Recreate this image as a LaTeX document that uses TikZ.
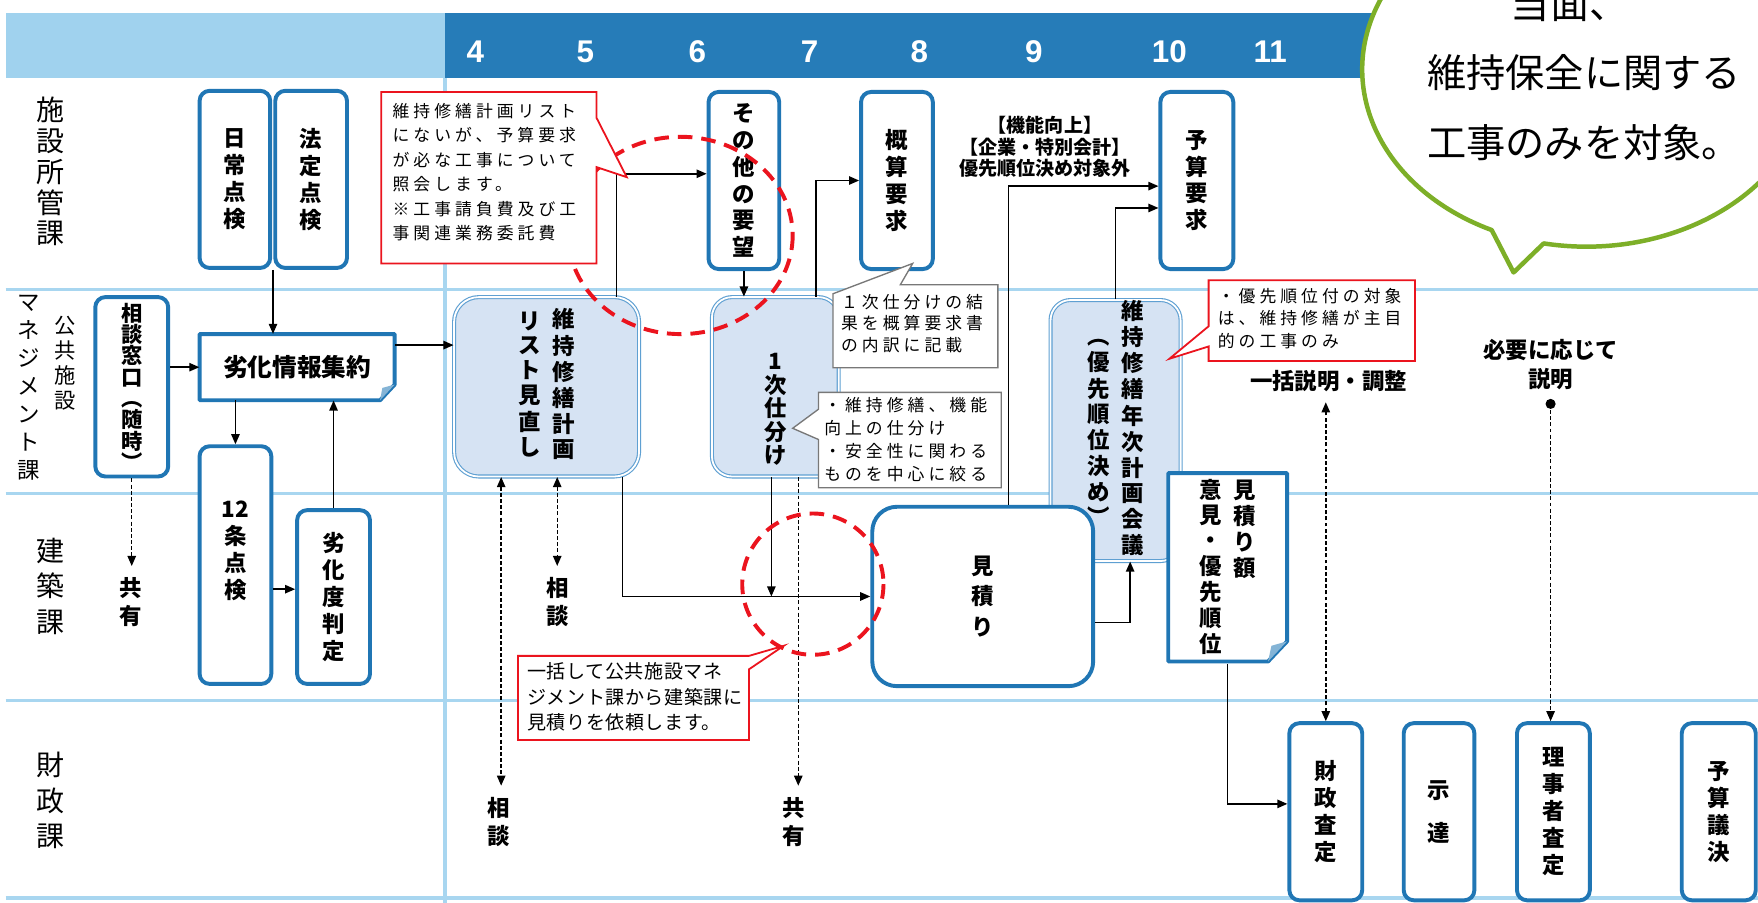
\documentclass[tikz,border=0pt]{standalone}
\usepackage{fontspec}
\setmainfont{Noto Sans CJK JP}
\newfontfamily\arialf{Liberation Sans}
\newfontfamily\calfont{Noto Sans CJK JP}[LetterSpace=24]
\newfontfamily\calfontE{Noto Sans CJK JP}[LetterSpace=3]
\usetikzlibrary{arrows.meta,calc}
\definecolor{hdrlight}{RGB}{160,210,238}
\definecolor{hdrdark}{RGB}{38,124,184}
\definecolor{laneline}{RGB}{168,214,240}
\definecolor{nodeblue}{RGB}{32,118,180}
\definecolor{dblfill}{RGB}{214,227,243}
\definecolor{dblline}{RGB}{95,160,210}
\definecolor{calred}{RGB}{235,20,30}
\definecolor{calgray}{RGB}{120,120,120}
\definecolor{bubgreen}{RGB}{125,175,40}
\newcommand\vcol[1]{\begin{tabular}[c]{@{}c@{}}#1\end{tabular}}
\newcommand\vcolt[1]{\begin{tabular}[t]{@{}c@{}}#1\end{tabular}}
\tikzset{
 vbox/.style={draw=nodeblue, line width=3.5pt, rounded corners=9pt, fill=white, inner sep=0pt, align=center,
   font={\bfseries\fontsize{20}{24}\selectfont}, minimum width=64pt, minimum height=158pt},
 dbl/.style={draw=dblline, double=white, double distance=1.6pt, line width=1pt, fill=dblfill, rounded corners=18pt,
   inner sep=0pt, align=center, font={\bfseries\fontsize{20}{21}\selectfont}},
 docline/.style={draw=nodeblue, line width=3.5pt, fill=white, line join=round},
 fold/.style={fill=nodeblue!55},
 txt/.style={inner sep=0pt, align=center, font={\bfseries\fontsize{20}{25}\selectfont}},
 arr/.style={line width=1.3pt, ->},
 darr/.style={line width=1.3pt, dash pattern=on 3.5pt off 2pt, ->},
 ddarr/.style={line width=1.3pt, dash pattern=on 3.5pt off 2pt, <->},
 reddash/.style={draw=calred, line width=3.5pt, dash pattern=on 13pt off 8pt},
 redcall/.style={draw=calred, line width=1.6pt, fill=white, line join=miter},
 graycall/.style={draw=calgray, line width=1.2pt, fill=white, line join=miter},
 caltxt/.style={inner sep=0pt, align=left, anchor=north west},
 lane/.style={draw=laneline, line width=3pt},
 lanelab/.style={inner sep=0pt, align=center, font={\fontsize{25}{27.5}\selectfont}},
 month/.style={text=white, inner sep=0pt, font={\arialf\bfseries\fontsize{28}{28}\selectfont}},
 bubtxt/.style={inner sep=0pt, font={\fontsize{35}{40}\selectfont}},
}
\begin{document}
\begin{tikzpicture}[x=1pt,y=-1pt,>={Triangle[length=9pt,width=7.5pt]}]
\useasboundingbox (0,0) rectangle (1568,805);
\clip (0,0) rectangle (1568,805);
\fill[white] (0,0) rectangle (1568,805);
% header band
\fill[hdrlight] (5,12) rectangle (397,70);
\fill[hdrdark] (397,12) rectangle (1568,70);
% lanes
\draw[lane] (5,258) -- (1568,258);
\draw[lane] (5,440) -- (1568,440);
\draw[lane] (5,625) -- (1568,625);
\draw[lane] (5,801) -- (1568,801);
\draw[lane] (397,70) -- (397,805);
% months
\foreach \m/\x in {4/424,5/522,6/622,7/722,8/820,9/922,10/1043,11/1133}
  \node[month] (m\m) at (\x,46) {\m};
% lane labels
\node[lanelab] (lab1) at (45,153) {施\\設\\所\\管\\課};
\node[lanelab, font={\fontsize{19}{22.5}\selectfont}] (lab2a) at (58,324) {公\\共\\施\\設};
\node[lanelab, font={\fontsize{20}{25}\selectfont}] (lab2b) at (26,346) {マ\\ネ\\ジ\\メ\\ン\\ト\\課};
\node[lanelab, font={\fontsize{25}{31.5}\selectfont}] (lab3) at (45,523) {建\\築\\課};
\node[lanelab, font={\fontsize{25}{31.5}\selectfont}] (lab4) at (45,714) {財\\政\\課};

% lane 1 boxes
\node[vbox, minimum width=63pt] (nichijo) at (209.5,160) {日\\常\\点\\検};
\node[vbox, minimum width=64pt] (hotei) at (277.5,160) {法\\定\\点\\検};
\node[vbox, minimum width=63pt] (sonota) at (663.5,161) {そ\\の\\他\\の\\要\\望};
\node[vbox] (gaisan) at (800,161) {概\\算\\要\\求};
\node[vbox, minimum width=65pt] (yosan) at (1067.5,161) {予\\算\\要\\求};

% lane 2
\node[vbox, minimum width=65pt, minimum height=160pt, font={\bfseries\fontsize{19}{19}\selectfont}] (soudan) at (117.5,345)
  {相\\談\\窓\\口\\︵\\随\\時\\︶};
\draw[docline] (178,298) -- (352,298) -- (352,343) -- (339,357) -- (178,357) -- cycle;
\fill[fold] (339,357) -- (352,343) -- (341,346) -- cycle;
\node[txt, font={\bfseries\fontsize{22}{24}\selectfont}, minimum width=174pt, minimum height=59pt] (rekka) at (265,327.5) {劣化情報集約};
\node[dbl, minimum width=165pt, minimum height=160pt, rounded corners=22pt] (list) at (487.5,345)
  {\vcol{リ\\ス\\ト\\見\\直\\し}\hspace{10pt}\vcol{維\\持\\修\\繕\\計\\画}};
\node[dbl, minimum width=113pt, minimum height=160pt] (shiwake) at (691.5,345)
  {\mbox{}\\[34pt]1\\次\\仕\\分\\け};
\node[dbl, minimum width=116pt, minimum height=232pt] (kaigi) at (995,384)
  {\vcol{︵\\優\\先\\順\\位\\決\\め\\︶}\hspace{10pt}\vcol{維\\持\\修\\繕\\年\\次\\計\\画\\会\\議}};

% lane 3
\node[vbox, minimum height=212pt] (j12) at (210,504) {12\\条\\点\\検\\[4pt]\mbox{}};
\node[vbox, minimum width=65pt, minimum height=155pt] (rekkado) at (297.5,532.5) {劣\\化\\度\\判\\定};
\node[vbox, minimum width=197pt, minimum height=160pt, rounded corners=22pt, font={\bfseries\fontsize{20}{27}\selectfont}] (mitsumori) at (876.5,532) {見\\積\\り};
\draw[docline] (1042,422) -- (1148,422) -- (1148,572) -- (1131,590) -- (1042,590) -- cycle;
\fill[fold] (1131,590) -- (1148,572) -- (1134,576) -- cycle;
\node[txt, font={\bfseries\fontsize{20}{21.5}\selectfont}, minimum width=106pt, minimum height=168pt] (mdoc) at (1095,508)
  {\vcolt{意\\見\\・\\優\\先\\順\\位}\hspace{10pt}\vcolt{見\\積\\り\\額}};

% lane 4
\node[vbox, minimum width=65pt] (zaisei) at (1182.5,724) {財\\政\\査\\定};
\node[vbox, minimum width=63pt] (shitatsu) at (1283.5,724) {示\\[14pt]達};
\node[vbox, minimum width=65pt] (riji) at (1385.5,724) {理\\事\\者\\査\\定};
\node[vbox, minimum width=66pt] (giketsu) at (1533,724) {予\\算\\議\\決};

% labels
\node[txt, font={\bfseries\fontsize{17}{19.5}\selectfont}] (kinou) at (932,131) {【機能向上】\\【企業・特別会計】\\優先順位決め対象外};
\node[txt] (ikkatsu) at (1185,340) {一括説明・調整};
\node[txt, font={\bfseries\fontsize{20}{26}\selectfont}] (hitsuyo) at (1383,325) {必要に応じて\\説明};
\node[txt] (kyo1) at (117,537) {共\\有};
\node[txt] (sou1) at (497,537) {相\\談};
\node[txt] (sou2) at (445,733) {相\\談};
\node[txt] (kyo2) at (708,733) {共\\有};

% solid connectors
\coordinate (jn) at ($(nichijo.south)!0.5!(hotei.south)$);
\draw[arr] (jn) -- (jn |- rekka.north);
\draw[arr] (soudan.east |- rekka.west) -- (rekka.west);
\draw[arr] (j12.north |- rekka.south) -- (j12.north);
\draw[arr] (rekkado.north) -- (rekkado.north |- rekka.south);
\coordinate (r2) at ($(rekkado.west)+(0,-7)$);
\draw[arr] (r2 -| j12.east) -- (r2);
\coordinate (r1) at ($(rekka.north east)+(0,10)$);
\draw[arr] (r1) -- (r1 -| list.west);
\coordinate (l1) at ($(list.north)+(62.5,0)$);
\coordinate (s1) at ($(sonota.west)+(0,-6)$);
\draw[arr] (l1) |- (s1);
\draw[arr] (sonota.south) -- (sonota.south |- shiwake.north);
\coordinate (sh1) at ($(shiwake.north)+(36.5,0)$);
\draw[arr] (sh1) |- (gaisan.west);
\coordinate (l2) at ($(list.south)+(67.5,0)$);
\draw[arr] (l2) |- (mitsumori.west);
\coordinate (sh2) at ($(shiwake.south)+(-3.5,0)$);
\draw[arr] (sh2) -- (sh2 |- mitsumori.west);
\coordinate (mt1) at ($(mitsumori.north)+(23,0)$);
\coordinate (y1) at ($(yosan.west)+(0,5)$);
\draw[arr] (mt1) |- (y1);
\coordinate (y2) at ($(yosan.west)+(0,24.5)$);
\draw[arr] (kaigi.north) |- (y2);
\coordinate (mt2) at ($(mitsumori.east)+(0,23)$);
\coordinate (kg1) at ($(kaigi.south)+(13,0)$);
\draw[arr] (mt2) -| (kg1);
\coordinate (z1) at ($(zaisei.west)+(0,-7)$);
\draw[arr] (mdoc.south) |- (z1);

% dashed connectors
\draw[darr, shorten >=10pt] (soudan.south) -- (soudan.south |- kyo1.north);
\coordinate (l4) at ($(list.south)+(9.5,0)$);
\draw[ddarr, shorten >=10pt] (l4) -- (l4 |- sou1.north);
\coordinate (l3) at ($(list.south)+(-40.5,0)$);
\draw[ddarr, shorten >=10pt] (l3) -- (l3 |- sou2.north);
\coordinate (sh3) at ($(shiwake.south)+(20.5,0)$);
\draw[darr, shorten >=10pt] (sh3) -- (sh3 |- kyo2.north);
\draw[ddarr, shorten >=9pt] (zaisei.north) -- (zaisei.north |- ikkatsu.south);
\coordinate (dot) at ($(riji.north)+(-2.5,-283)$);
\fill (dot) circle (4.5);
\draw[darr] (dot) -- (dot |- riji.north);

% red dashed circles
\draw[reddash] (607,210) ellipse [x radius=100, y radius=88];
\draw[reddash] (725,521) circle (63);

% callout A
\draw[redcall] (340,82) -- (532,82) -- (532,105) -- (559,158) -- (532,149) -- (532,235) -- (340,235) -- cycle;
\node[caltxt, font={\calfont\fontsize{15}{21.8}\selectfont}] (calA) at (350,92)
  {維持修繕計画リスト\\にないが、予算要求\\が必な工事について\\照会します。\\※工事請負費及び工\\事関連業務委託費};
% callout B
\draw[graycall] (743,262) -- (814,235) -- (803,254) -- (890,254) -- (890,328) -- (743,328) -- cycle;
\node[caltxt, font={\calfont\fontsize{15}{19.3}\selectfont}] (calB) at (750,262)
  {１次仕分けの結\\果を概算要求書\\の内訳に記載};
% callout C
\draw[graycall] (730,350) -- (893,350) -- (893,435) -- (730,435) -- (730,392) -- (707,382) -- (730,365) -- cycle;
\node[caltxt, font={\calfont\fontsize{15}{20.6}\selectfont}] (calC) at (735,354)
  {・維持修繕、機能\\向上の仕分け\\・安全性に関わる\\ものを中心に絞る};
% callout D
\draw[redcall] (1078,250) -- (1262,250) -- (1262,322) -- (1078,322) -- (1078,309) -- (1043,320) -- (1078,291) -- cycle;
\node[caltxt, font={\calfont\fontsize{15}{20}\selectfont}] (calD) at (1086,257)
  {・優先順位付の対象\\は、維持修繕が主目\\的の工事のみ};
% callout E
\draw[redcall] (462,585) -- (668,585) -- (699,576) -- (668,597) -- (668,660) -- (462,660) -- cycle;
\node[caltxt, font={\calfontE\fontsize{17}{22.5}\selectfont}] (calE) at (470,591)
  {一括して公共施設マネ\\ジメント課から建築課に\\見積りを依頼します。};

% speech bubble
\draw[draw=bubgreen, line width=4pt, fill=white, line join=round]
  ($(1415,62)+(115:200 and 158)$) arc[start angle=115, end angle=461, x radius=200, y radius=158] -- (1350,243) -- cycle;
\node[bubtxt] (bub1) at (1400,3) {当面、};
\node[bubtxt] (bub2) at (1413,65) {維持保全に関する};
\node[bubtxt] (bub3) at (1413,127) {工事のみを対象。};
\end{tikzpicture}
\end{document}
